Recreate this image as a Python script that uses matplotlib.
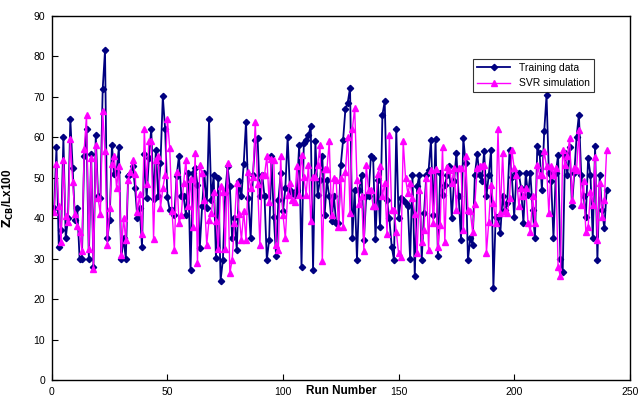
import numpy as np
import matplotlib.pyplot as plt

plt.rcParams['font.family'] = ['Liberation Sans', 'DejaVu Sans']

# values, one per run
training = [42.5, 57.5, 33, 37, 60, 35, 40, 64.5, 52.5, 39.5, 42.5, 30, 30, 55.5, 62, 30, 56, 28, 60.5, 45.5,
            45, 72, 81.5, 35, 39.5, 58, 51, 51.5, 57.5, 30, 35, 30, 50.5, 51, 53, 47.5, 40, 42.5, 33, 56, 45, 55,
            62.1, 44.7, 56.8, 45.5, 53.6, 70.1, 62.1, 45.2, 42, 42, 40.8, 50.5, 55.5, 45.5, 45.4, 40.8, 51.1, 27.1,
            51.1, 52.4, 48.3, 32.6, 42.9, 51.1, 42.5, 64.5, 44.5, 50.7, 30.1, 49.9, 24.6, 29.7, 46.2, 52.8, 47.9, 35,
            40, 32.2, 49.1, 45.4, 53.5, 63.9, 45, 35, 50.7, 59.4, 59.8, 45.4, 50.7, 45.4, 29.7, 34.6, 55.3, 40.4,
            30.7, 44.5, 51.1, 41.7, 47.4, 60.1, 47, 46.2, 45.8, 47, 58.2, 27.9, 58.7, 59.4, 60.6, 62.7, 27.2, 59,
            45.8, 49.5, 55.3, 40.8, 49.5, 45.4, 39.2,
            45.4, 38.8, 38.8, 53.2, 59.4, 67, 68.6, 72.2, 35, 47, 29.7, 47, 50.7, 34.6, 45.5, 45.5, 55.3, 54.9,
            34.8, 49.5, 37.9, 65.6, 68.9, 44.5, 40, 33, 29.7, 62, 40, 45, 44.5, 43.7, 42.9, 29.9, 50.7, 25.6, 47.9,
            50.7, 29.7, 41.2, 50.7, 52, 59.4,
            40.8, 59.6, 30.7, 51.1, 45.8, 48.3, 50.7, 52.8, 40, 49.1, 56.1, 45.4, 34.6, 59.8, 53.6, 29.7, 35, 33.4,
            50.7, 55.9, 50.7, 49.3, 56.5, 45.4, 50.7, 56.9, 22.7, 40.4, 40.4, 36.3, 45.4, 42, 43.7, 56.9, 50.3,
            40.4, 51.1, 51.1, 47.4, 38.8, 51.1, 45.8,
            51.1, 42, 35, 57.8, 56.1, 47, 61.5, 70.5, 51.1, 49.1, 35, 51.1, 55.7, 29.9, 26.8, 56.1, 50.7, 57.6,
            42.9, 51.1, 60.2, 65.6, 50.7, 45.5, 40.4, 54.9, 50.7, 35, 57.8, 29.7, 50.7, 42, 37.5, 47]

svr = [41.5, 53.5, 43, 34, 54.5, 40.5, 39, 59.5, 49, 41, 38, 36.5, 32, 57, 65.5, 32.5, 55, 27.5, 58, 45,
       41, 66.5, 56.5, 33.5, 42.5, 53.5, 55.5, 47.5, 53, 31, 40, 34.5, 49.5, 51.5, 54.5, 51, 41.5, 46, 36, 62,
       48.5, 59,
       59, 34.9, 54.4, 55.3, 42.5, 47.4, 50.7, 64.5, 57.3, 41.7, 32.2, 51.5, 38.8, 40.8, 48.7, 54.4, 42.9, 49.7,
       37.9, 56.1, 29, 53.2, 51.1, 44.5, 33.4, 39.6, 41.2, 46.4, 39.4, 32.3, 47.9, 46.6, 32.3, 53.6, 26.4, 29.7,
       38.8, 48.7, 41.1, 34.6,
       41.7, 34.6, 51.5, 47.4, 50.3, 63.7, 48.5, 33.4, 50.7, 50.7, 55.3, 44.1, 54.7, 54.4, 33.4, 32.2, 55.3,
       40.8, 35, 45.8, 48.7, 44.5, 44.1, 52.8, 45.8, 55.7, 50.3, 45.8, 53.2, 39.2, 50.3, 50.3, 53.2, 58.2, 29.4,
       52.1, 52.1, 59, 40.8, 49.9, 49.5, 37.9,
       49.9, 37.9, 51.5, 60.2, 41.4, 62, 67.2, 49.5, 43.6, 45.4, 32, 53.2, 47, 47, 42.9, 42.9, 51, 52.8, 45.5,
       48.7, 36.1, 60.6, 42, 42, 36.7, 31.3, 30.5, 59, 49.9, 46.2, 48.7, 45, 41.1, 31.3, 47, 34.2, 37.1, 49.9,
       32.2, 52, 38.8, 52.1, 33,
       38.4, 57.6, 34, 52.6, 52, 48.7, 52.4, 42, 52.4, 52.4, 37.1, 55.3, 42, 41.7, 36.7, 43.6, 52.4, 52.8,
       52.8, 53.2, 31.5, 39, 48.3, 43.7, 38.8, 62, 41.2, 56.1, 41.7, 41.2, 45, 56.8, 52.4, 50.7, 42.9, 47.4,
       45.4, 47.4, 38.8,
       36.7, 45.4, 38.8, 53.2, 50.7, 50.7, 56.5, 52.8, 41.2, 52.8, 50.7, 52.4, 28, 25.6, 56.9, 53.2, 55.3, 59.8,
       44.5, 52.4, 52, 61.9, 43.3, 49.1, 36.7, 37.9, 46.6, 43.3, 55.1, 34.6, 48.7, 40.4, 44.5, 56.9]

run_train = np.arange(1, len(training) + 1)
run_svr = np.arange(1, len(svr) + 1)

fig = plt.figure(figsize=(6.4, 4), dpi=100)
ax = fig.add_axes([0.081, 0.05, 0.903, 0.91])

ax.plot(run_train, training, color='#000080', lw=1.3, marker='D', ms=3.2, label='Training data')
ax.plot(run_svr, svr, color='#FF00FF', lw=1.0, marker='^', ms=4.8, label='SVR simulation')

ax.set_xlim(0, 250)
ax.set_ylim(0, 90)
ax.set_xticks(range(0, 251, 50))
ax.set_yticks(range(0, 91, 10))
ax.tick_params(direction='in', length=4, labelsize=7.5, pad=5)
for s in ax.spines.values():
    s.set_linewidth(1.0)
    s.set_color('black')

ax.set_xlabel('Run Number', fontsize=8.5, fontweight='bold', va='center')
ax.xaxis.set_label_coords(0.5, -0.03)
ax.set_ylabel(r'$\mathbf{Z_{CB}}$/Lx100', fontsize=8.5, fontweight='bold')
ax.yaxis.set_label_coords(-0.062, 0.5)

leg = ax.legend(loc='upper left', bbox_to_anchor=(0.739, 0.853), bbox_transform=fig.transFigure,
                fontsize=7.5, frameon=True, fancybox=False, borderaxespad=0, handlelength=3.2,
                borderpad=0.4, labelspacing=0.5)
leg.get_frame().set_edgecolor('black')
leg.get_frame().set_linewidth(0.8)

fig.savefig('out.png', dpi=100)
